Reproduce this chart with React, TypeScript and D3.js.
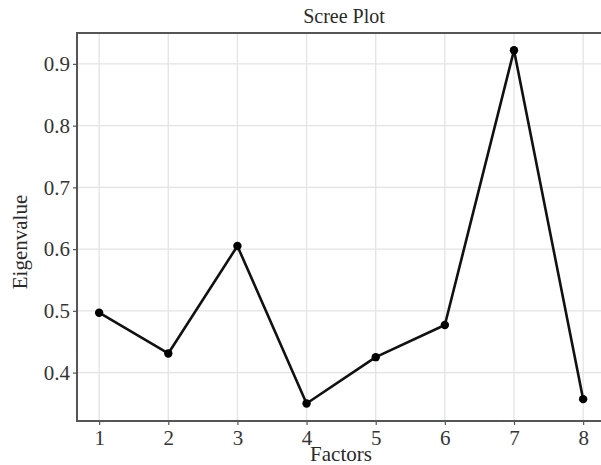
import React, { useEffect, useRef } from 'react';
import * as d3 from 'd3';

const factors = [1, 2, 3, 4, 5, 6, 7, 8];
const eigenvalues = [0.497, 0.431, 0.605, 0.35, 0.425, 0.477, 0.922, 0.357];
const yTicks = [0.4, 0.5, 0.6, 0.7, 0.8, 0.9];

const App: React.FC = () => {
  const svgRef = useRef<SVGSVGElement>(null);

  useEffect(() => {
    if (!svgRef.current) return;
    const width = 601;
    const height = 465;
    const panel = { left: 77, right: 607, top: 33, bottom: 421 };
    const font = '"Liberation Serif", "DejaVu Serif", serif';

    const svg = d3.select(svgRef.current);
    svg.selectAll('*').remove();
    svg.attr('width', width).attr('height', height).style('display', 'block');

    svg.append('rect').attr('width', width).attr('height', height).attr('fill', '#fff');

    const x = d3.scaleLinear().domain([0.68, 8.345]).range([panel.left, panel.right]);
    const y = d3.scaleLinear().domain([0.3216, 0.95]).range([panel.bottom, panel.top]);

    // grid
    const grid = svg.append('g');
    grid.selectAll('line.gx')
      .data(factors)
      .enter()
      .append('line')
      .attr('x1', d => x(d)).attr('x2', d => x(d))
      .attr('y1', panel.top).attr('y2', panel.bottom)
      .attr('stroke', '#e3e3e3').attr('stroke-width', 1.3);
    grid.selectAll('line.gy')
      .data(yTicks)
      .enter()
      .append('line')
      .attr('x1', panel.left).attr('x2', panel.right)
      .attr('y1', d => y(d)).attr('y2', d => y(d))
      .attr('stroke', '#e3e3e3').attr('stroke-width', 1.3);

    // axes
    const xAxis = svg.append('g')
      .attr('transform', `translate(0,${panel.bottom})`)
      .call(d3.axisBottom(x).tickValues(factors).tickSize(4).tickPadding(5).tickFormat(d3.format('d')));
    const yAxis = svg.append('g')
      .attr('transform', `translate(${panel.left},0)`)
      .call(d3.axisLeft(y).tickValues(yTicks).tickSize(4).tickPadding(3).tickFormat(d3.format('.1f')));
    [xAxis, yAxis].forEach(a => {
      a.select('.domain').remove();
      a.selectAll('line').attr('stroke', '#555').attr('stroke-width', 1.2);
      a.selectAll('text')
        .attr('fill', '#353535')
        .style('font-family', font)
        .style('font-size', '21px');
    });

    // panel border
    svg.append('rect')
      .attr('x', panel.left).attr('y', panel.top)
      .attr('width', panel.right - panel.left).attr('height', panel.bottom - panel.top)
      .attr('fill', 'none').attr('stroke', '#555').attr('stroke-width', 2);

    // line + points
    const pts = factors.map((f, i) => ({ f, v: eigenvalues[i] }));
    const line = d3.line<{ f: number; v: number }>().x(d => x(d.f)).y(d => y(d.v));
    svg.append('path')
      .datum(pts)
      .attr('d', line)
      .attr('fill', 'none')
      .attr('stroke', '#111')
      .attr('stroke-width', 2.6)
      .attr('stroke-linejoin', 'round');
    svg.selectAll('circle.pt')
      .data(pts)
      .enter()
      .append('circle')
      .attr('cx', d => x(d.f))
      .attr('cy', d => y(d.v))
      .attr('r', 4.2)
      .attr('fill', '#000');

    // titles
    svg.append('text')
      .attr('x', 344).attr('y', 23)
      .attr('text-anchor', 'middle')
      .attr('fill', '#2a2a2a')
      .style('font-family', font).style('font-size', '20px')
      .text('Scree Plot');
    svg.append('text')
      .attr('x', 341).attr('y', 461)
      .attr('text-anchor', 'middle')
      .attr('fill', '#2a2a2a')
      .style('font-family', font).style('font-size', '21px')
      .text('Factors');
    svg.append('text')
      .attr('transform', 'translate(27,242) rotate(-90)')
      .attr('text-anchor', 'middle')
      .attr('fill', '#2a2a2a')
      .style('font-family', font).style('font-size', '21px')
      .text('Eigenvalue');
  }, []);

  return (
    <div style={{ position: 'absolute', left: 0, top: 0 }}>
      <svg ref={svgRef} />
    </div>
  );
};

export default App;
